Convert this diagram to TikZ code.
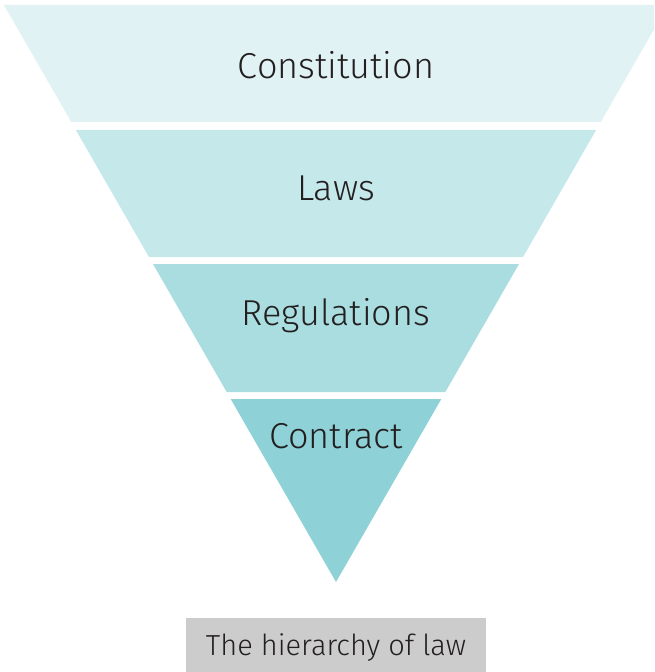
\documentclass[tikz,border=0pt]{standalone}
\usepackage{fontspec}
\setmainfont{Fira Sans}[UprightFont=* Light]
\usepackage{tikz}
\definecolor{LawBandA}{HTML}{E0F2F3}
\definecolor{LawBandB}{HTML}{C5E8EB}
\definecolor{LawBandC}{HTML}{A9DDE0}
\definecolor{LawBandD}{HTML}{8ED1D6}
\definecolor{LawCaption}{HTML}{CCCCCC}
\definecolor{LawText}{HTML}{231F20}

\begin{document}
\begin{tikzpicture}[x=0.02cm,y=-0.02cm,lbl/.style={font=\fontsize{20.5}{25}\selectfont,text=LawText,inner sep=0pt,anchor=base},
captionbox/.style={fill=LawCaption,minimum width=6cm,minimum height=1.08cm,inner sep=0pt,text height=11.4pt,text depth=0pt,font=\fontsize{16.5}{20}\selectfont,text=LawText}]
\useasboundingbox (0,0) rectangle (654,672);
\clip (0,0) rectangle (654,672);
\def\funnelslope{0.5755}
\foreach \ya/\yb/\col in %
{5/122/LawBandA,130/257/LawBandB,264/392/LawBandC,399/582/LawBandD} {
   \fill[\col] ({336-\funnelslope*(582-\ya)},\ya) -- ({336+\funnelslope*(582-\ya)},\ya)
      -- ({336+\funnelslope*(582-\yb)},\yb) -- ({336-\funnelslope*(582-\yb)},\yb) -- cycle;
}
   \node[lbl](constitution) at(336,79) {Constitution};
   \node[lbl](laws) at(336,200) {Laws};
   \node[lbl](regulations) at(336,325) {Regulations};
   \node[lbl](contract) at(336,448) {Contract};
   \node[captionbox](caption) at(336,645) {The hierarchy of law};
\end{tikzpicture}
\end{document}
